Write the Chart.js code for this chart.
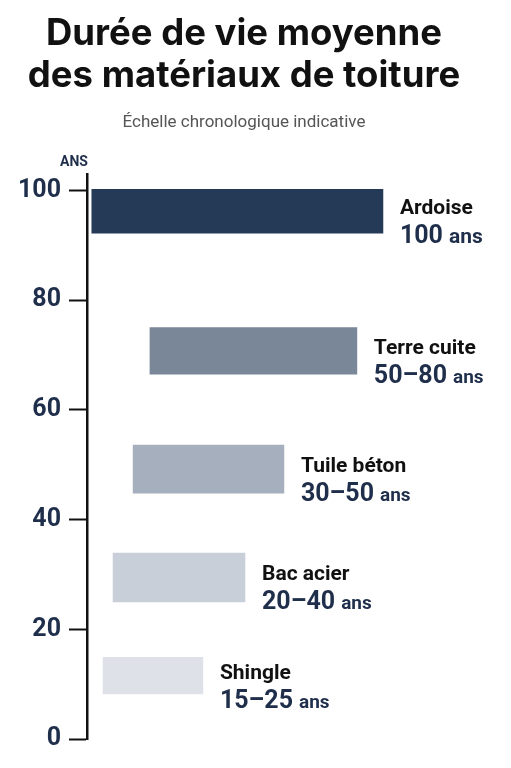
<!DOCTYPE html>
<html lang="fr">
<head>
<meta charset="utf-8">
<script src="https://cdn.jsdelivr.net/npm/chart.js@4.4.1/dist/chart.umd.min.js"></script>
<style>
  html, body { margin: 0; padding: 0; background: #ffffff; }
  #wrap { width: 511px; height: 768px; position: relative; }
</style>
</head>
<body>
<div id="wrap"><canvas id="c" width="511" height="768"></canvas></div>
<script>
// ---- data ----
const categories = ['Ardoise', 'Terre cuite', 'Tuile béton', 'Bac acier', 'Shingle'];
const rangeLabels = ['100', '50–80', '30–50', '20–40', '15–25'];
const unitLabel = 'ans';
const barTop = [100.2, 75.0, 53.6, 33.9, 14.9];
const barBottom = [92.2, 66.5, 44.8, 25.0, 8.2];
const barStart = [1.2, 15.7, 11.5, 6.5, 4.0];
const barEnd = [73.8, 67.3, 49.1, 39.4, 28.9];
const yTicks = [0, 20, 40, 60, 80, 100];
const titleLines = ['Durée de vie moyenne', 'des matériaux de toiture'];
const subtitleText = 'Échelle chronologique indicative';
const axisUnit = 'ANS';

// ---- styles ----
const barColors = ['#243a56', '#7a8799', '#a6afbd', '#c9cfd9', '#dee1e8'];
const unitFontSizes = [21, 19, 19, 19, 19];
const navy = '#1f2f4b';
const FONT = 'Roboto, "Noto Sans", sans-serif';
const TITLE_FONT = 'Inter, Roboto, sans-serif';

const labelPlugin = {
  id: 'barLabels',
  afterDatasetsDraw(chart) {
    const ctx = chart.ctx;
    const area = chart.chartArea;
    ctx.save();
    ctx.fillStyle = navy;
    ctx.font = 'bold 14px ' + FONT;
    ctx.textAlign = 'center';
    ctx.textBaseline = 'alphabetic';
    ctx.fillText(axisUnit, area.left - 13, area.top - 8);
    ctx.textAlign = 'left';
    chart.data.datasets.forEach((ds, i) => {
      const el = chart.getDatasetMeta(i).data[0];
      if (!el) return;
      const x = el.x + 17;
      ctx.fillStyle = '#111111';
      ctx.font = 'bold 21px ' + FONT;
      ctx.fillText(categories[i], x, el.y + 3);
      ctx.fillStyle = navy;
      ctx.font = 'bold 25px ' + FONT;
      ctx.fillText(rangeLabels[i], x, el.y + 32);
      const w = ctx.measureText(rangeLabels[i]).width;
      ctx.font = 'bold ' + unitFontSizes[i] + 'px ' + FONT;
      ctx.fillText(unitLabel, x + w + 6, el.y + 32);
    });
    ctx.restore();
  }
};

const datasets = categories.map((name, i) => ({
  label: name,
  data: [{ y: (barTop[i] + barBottom[i]) / 2, x: [barStart[i], barEnd[i]] }],
  backgroundColor: barColors[i],
  borderWidth: 0,
  grouped: false,
  barThickness: 40
}));

const chart = new Chart(document.getElementById('c'), {
  type: 'bar',
  data: { datasets },
  options: {
    indexAxis: 'y',
    responsive: false,
    animation: false,
    devicePixelRatio: 1,
    layout: { padding: { left: 0, right: 23, top: 0, bottom: 29 } },
    plugins: {
      legend: { display: false },
      tooltip: { enabled: false },
      title: {
        display: true,
        text: titleLines,
        color: '#111111',
        font: { family: TITLE_FONT, size: 36.5, weight: 'bold', lineHeight: '42px' },
        padding: { top: 13, bottom: 0 }
      },
      subtitle: {
        display: true,
        text: subtitleText,
        color: '#555555',
        font: { family: FONT, size: 17, weight: 'normal', lineHeight: '20px' },
        padding: { top: 16, bottom: 41 }
      }
    },
    scales: {
      x: { type: 'linear', min: 0, max: 100, display: false, offset: false },
      y: {
        type: 'linear',
        position: 'left',
        min: 0,
        max: 103,
        offset: false,
        afterFit(scale) { scale.width = 87; },
        afterBuildTicks(scale) { scale.ticks = yTicks.map(v => ({ value: v })); },
        ticks: {
          color: navy,
          padding: 8,
          font: { family: FONT, size: 25, weight: 'bold' }
        },
        grid: {
          offset: false,
          drawOnChartArea: false,
          drawTicks: true,
          tickLength: 18,
          tickColor: '#111111',
          tickWidth: 2
        },
        border: { display: true, color: '#111111', width: 2.5 }
      }
    }
  },
  plugins: [labelPlugin]
});

const ys = chart.scales.y;
chart.data.datasets.forEach((ds, i) => {
  ds.barThickness = Math.abs(ys.getPixelForValue(barBottom[i]) - ys.getPixelForValue(barTop[i]));
});
chart.update();
</script>
</body>
</html>
